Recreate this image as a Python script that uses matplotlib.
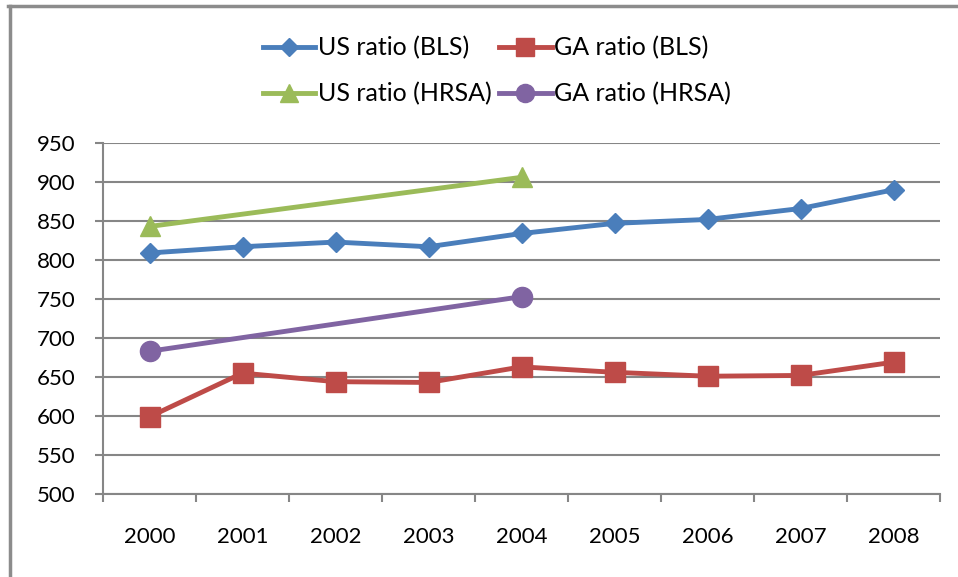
import matplotlib.pyplot as plt
from matplotlib.lines import Line2D

plt.rcParams['font.family'] = ['Lato', 'DejaVu Sans']

years = ["2000", "2001", "2002", "2003", "2004", "2005", "2006", "2007", "2008"]
us_bls = [809, 817, 823, 817, 834, 847, 852, 866, 890]
ga_bls = [599, 655, 644, 643, 663, 656, 651, 652, 669]
us_hrsa_idx = [0, 4]
us_hrsa = [843, 906]
ga_hrsa_idx = [0, 4]
ga_hrsa = [683, 753]

BLUE = "#4A7EBB"
RED = "#BE4B48"
GREEN = "#9BBB59"
PURPLE = "#8064A2"
GRID = "#868686"
FS = 16

fig = plt.figure(figsize=(9.58, 5.77), dpi=100)
W, H = 958, 577
ax = fig.add_axes([103 / W, 1 - 494 / H, (940 - 103) / W, (494 - 143) / H])

x = range(len(years))
h1, = ax.plot(x, us_bls, color=BLUE, lw=3.5, marker="D", ms=10.5, label="US ratio (BLS)")
h2, = ax.plot(x, ga_bls, color=RED, lw=3.5, marker="s", ms=14, label="GA ratio (BLS)")
h3, = ax.plot(us_hrsa_idx, us_hrsa, color=GREEN, lw=3.5, marker="^", ms=15, label="US ratio (HRSA)")
h4, = ax.plot(ga_hrsa_idx, ga_hrsa, color=PURPLE, lw=3.5, marker="o", ms=14.5, label="GA ratio (HRSA)")

ax.set_xlim(-0.5, len(years) - 0.5)
ax.set_ylim(500, 950)
ax.set_yticks(range(500, 951, 50))
ax.set_xticks(list(x))
ax.set_xticklabels(years)
ax.set_xticks([i - 0.5 for i in range(len(years) + 1)], minor=True)
ax.tick_params(axis="x", which="major", length=0, pad=24, labelsize=FS)
ax.tick_params(axis="x", which="minor", length=6, width=1.5, color=GRID, direction="out")
ax.tick_params(axis="y", length=6, width=1.5, color=GRID, pad=14, labelsize=FS)
ax.yaxis.grid(True, color=GRID, lw=1.5)
ax.set_axisbelow(True)
for s in ["top", "right"]:
    ax.spines[s].set_visible(False)
for s in ["left", "bottom"]:
    ax.spines[s].set_color(GRID)
    ax.spines[s].set_linewidth(1.5)

# column-wise fill -> rows: (US BLS, GA BLS), (US HRSA, GA HRSA)
fig.legend([h1, h3, h2, h4], [h.get_label() for h in (h1, h3, h2, h4)], ncol=2,
           loc="center", bbox_to_anchor=(497 / W, 1 - 71 / H),
           frameon=False, fontsize=18, handlelength=2.1, handletextpad=0.1,
           columnspacing=0.3, labelspacing=0.9, markerscale=0.9)

# outer chart border (left and top visible)
fig.add_artist(Line2D([9.5 / W, 9.5 / W], [0, 1 - 6 / H], color="#8C8C8C", lw=2.5,
                      transform=fig.transFigure))
fig.add_artist(Line2D([8.3 / W, 1], [1 - 6 / H, 1 - 6 / H], color="#8C8C8C", lw=2.5,
                      transform=fig.transFigure))

fig.savefig("out.png", dpi=100)
